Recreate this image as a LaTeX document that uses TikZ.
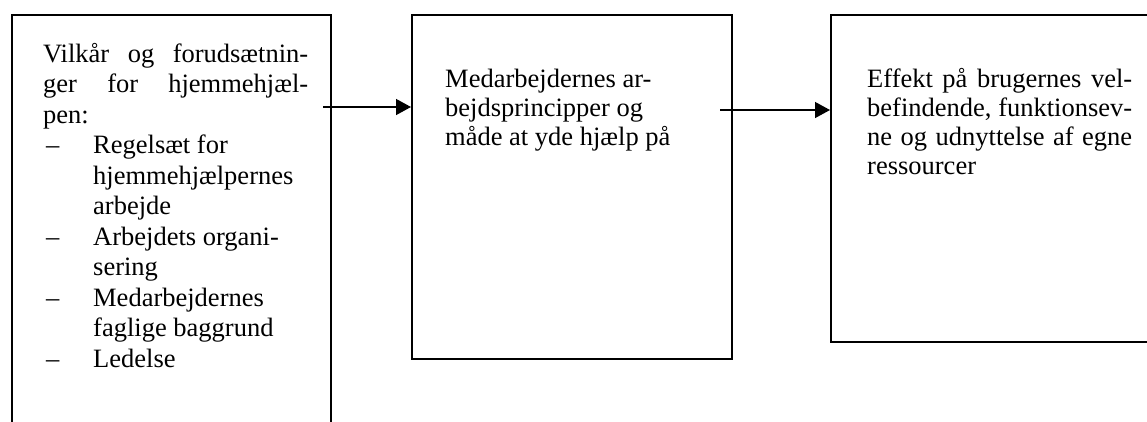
\documentclass[tikz,border=0pt]{standalone}
\usepackage{fontspec}
\setmainfont{Liberation Serif}
\usetikzlibrary{arrows.meta}

\tikzset{
  boks/.style={draw=black, line width=1.6pt, anchor=north west, inner sep=0pt},
  tekst/.style={anchor=base west, inner sep=0pt},
  pil/.style={line width=1.4pt, -{Triangle[length=15pt,width=16pt]}}
}
\newcommand{\brod}{\fontsize{26.5}{30.5}\selectfont}
\newcommand{\brodtaet}{\fontsize{26.5}{29}\selectfont}

\begin{document}
\begin{tikzpicture}[x=1pt,y=-1pt]
    \useasboundingbox (0,0) rectangle (1147,421);
    \clip (0,0) rectangle (1147,421);

    \node[boks,minimum width=319pt,minimum height=440pt] (vilkaar) at (11,14) {};
    \node[boks,minimum width=320pt,minimum height=344pt] (medarb) at (411,14) {};
    \node[boks,minimum width=330pt,minimum height=327pt] (effekt) at (830,14) {};

    \node[tekst] (t1) at (43,62) {\parbox[t]{265pt}{\brod
        \makebox[265pt][s]{Vilkår og forudsætnin-}\\
        \makebox[265pt][s]{ger for hjemmehjæl-}\\
        pen:\\
        \hspace*{3pt}\makebox[47pt][l]{–}Regelsæt for\\
        \hspace*{50pt}hjemmehjælpernes\\
        \hspace*{50pt}arbejde\\
        \hspace*{3pt}\makebox[47pt][l]{–}Arbejdets organi-\\
        \hspace*{50pt}sering\\
        \hspace*{3pt}\makebox[47pt][l]{–}Medarbejdernes\\
        \hspace*{50pt}faglige baggrund\\
        \hspace*{3pt}\makebox[47pt][l]{–}Ledelse}};
    \node[tekst] (t2) at (445,87) {\parbox[t]{265pt}{\brodtaet
        Medarbejdernes ar-\\
        bejdsprincipper og\\
        måde at yde hjælp på}};
    \node[tekst] (t3) at (867,87) {\parbox[t]{265pt}{\brodtaet
        \makebox[265pt][s]{Effekt på brugernes vel-}\\
        \makebox[265pt][s]{befindende, funktionsev-}\\
        \makebox[265pt][s]{ne og udnyttelse af egne}\\
        ressourcer}};

    \coordinate (a1) at (323,107);
    \coordinate (a2) at (720,110);
    \path [pil] (a1) edge node {} (a1 -| medarb.west);
    \path [pil] (a2) edge node {} (a2 -| effekt.west);
\end{tikzpicture}
\end{document}
